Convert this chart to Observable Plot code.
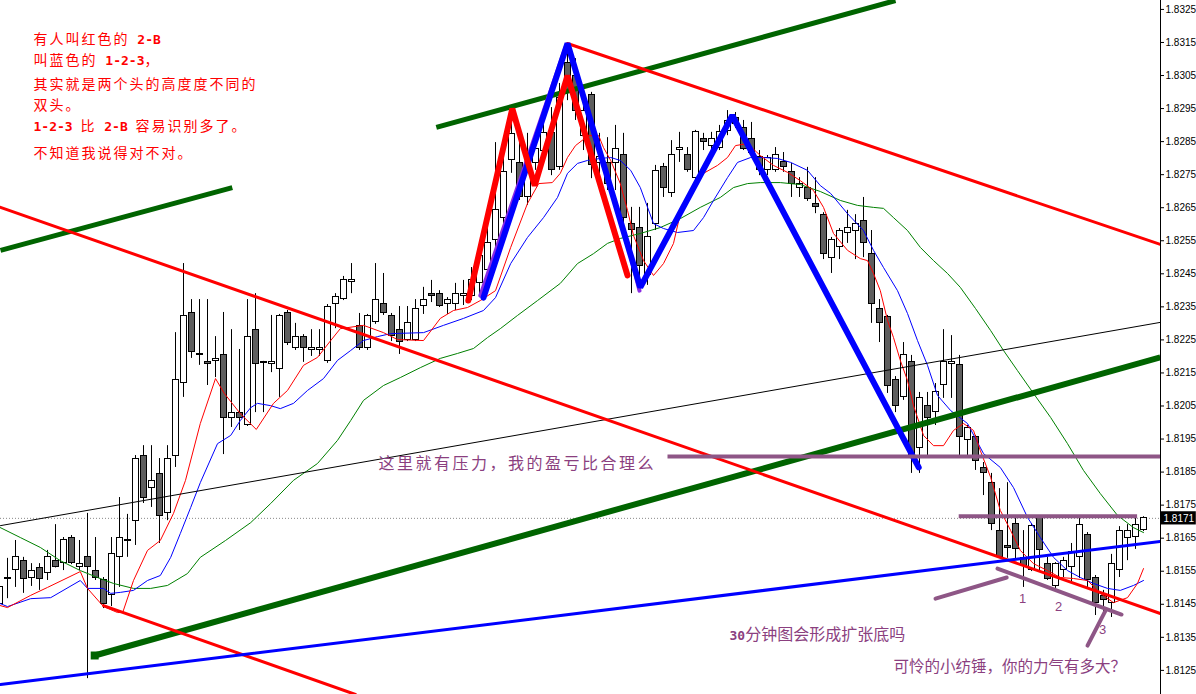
<!DOCTYPE html>
<html><head><meta charset="utf-8">
<script src="https://cdn.jsdelivr.net/npm/d3@7"></script>
<script src="https://cdn.jsdelivr.net/npm/@observablehq/plot@0.6"></script>
<style>
html,body{margin:0;padding:0;background:#fff;}
#chart{width:1196px;height:694px;overflow:hidden}
</style></head><body><div id="chart"></div>
<script>
const open = [1.81452,1.81525,1.81555,1.81582,1.81531,1.81561,1.81546,1.81582,1.81576,1.81652,1.81564,1.81592,1.81552,1.81522,1.81477,1.81592,1.81640,1.81703,1.81900,1.81803,1.81843,1.81725,1.81900,1.82121,1.82330,1.82203,1.82182,1.82185,1.82203,1.82015,1.82030,1.81994,1.82281,1.82179,1.82176,1.82163,1.82330,1.82224,1.82260,1.82218,1.82218,1.82185,1.82360,1.82375,1.82424,1.82291,1.82224,1.82303,1.82360,1.82321,1.82281,1.82251,1.82251,1.82354,1.82390,1.82390,1.82360,1.82360,1.82384,1.82384,1.82421,1.82460,1.82551,1.82620,1.82793,1.82784,1.82681,1.82784,1.82823,1.82875,1.82772,1.83089,1.83050,1.82868,1.82990,1.82784,1.82784,1.82784,1.82808,1.82602,1.82590,1.82445,1.82602,1.82772,1.82693,1.82826,1.82811,1.82741,1.82859,1.82838,1.82832,1.82881,1.82920,1.82890,1.82859,1.82802,1.82763,1.82763,1.82787,1.82757,1.82711,1.82711,1.82660,1.82629,1.82499,1.82530,1.82572,1.82581,1.82611,1.82511,1.82342,1.82318,1.82130,1.82076,1.82182,1.81924,1.82051,1.82033,1.82115,1.82176,1.82173,1.81946,1.81955,1.81861,1.81818,1.81673,1.81625,1.81694,1.81589,1.81555,1.81710,1.81573,1.81504,1.81555,1.81564,1.81592,1.81661,1.81531,1.81474,1.81455,1.81555,1.81652,1.81655,1.81676];
const high = [1.81522,1.81589,1.81643,1.81592,1.81573,1.81573,1.81613,1.81691,1.81652,1.81658,1.81643,1.81725,1.81652,1.81531,1.81652,1.81773,1.81722,1.81900,1.81930,1.81930,1.81891,1.81930,1.82272,1.82481,1.82372,1.82372,1.82372,1.82260,1.82333,1.82281,1.82221,1.82372,1.82390,1.82185,1.82324,1.82327,1.82339,1.82300,1.82266,1.82281,1.82281,1.82357,1.82390,1.82442,1.82481,1.82330,1.82327,1.82481,1.82451,1.82330,1.82351,1.82351,1.82372,1.82409,1.82430,1.82399,1.82378,1.82421,1.82430,1.82469,1.82551,1.82620,1.82847,1.82802,1.82935,1.82862,1.82875,1.82862,1.82905,1.82953,1.83026,1.83126,1.83101,1.82974,1.82999,1.82875,1.82862,1.82899,1.82875,1.82651,1.82651,1.82663,1.82778,1.82784,1.82853,1.82878,1.82832,1.82884,1.82875,1.82878,1.82899,1.82944,1.82938,1.82914,1.82908,1.82823,1.82808,1.82832,1.82817,1.82784,1.82741,1.82772,1.82741,1.82635,1.82560,1.82587,1.82642,1.82629,1.82681,1.82581,1.82372,1.82324,1.82139,1.82242,1.82203,1.82091,1.82091,1.82118,1.82281,1.82263,1.82203,1.81991,1.81961,1.81879,1.81846,1.81800,1.81818,1.81713,1.81673,1.81694,1.81716,1.81592,1.81576,1.81592,1.81634,1.81710,1.81667,1.81537,1.81492,1.81601,1.81685,1.81691,1.81710,1.81715];
const low = [1.81437,1.81467,1.81501,1.81483,1.81504,1.81492,1.81522,1.81560,1.81552,1.81570,1.81552,1.81225,1.81522,1.81437,1.81443,1.81501,1.81592,1.81628,1.81755,1.81743,1.81634,1.81703,1.81864,1.82076,1.82194,1.82173,1.82112,1.82136,1.81903,1.81985,1.81976,1.81988,1.82030,1.82030,1.82151,1.82076,1.82233,1.82218,1.82182,1.82200,1.82200,1.82179,1.82284,1.82369,1.82390,1.82218,1.82218,1.82297,1.82324,1.82245,1.82206,1.82245,1.82245,1.82327,1.82363,1.82348,1.82327,1.82339,1.82354,1.82369,1.82378,1.82424,1.82521,1.82596,1.82754,1.82672,1.82657,1.82763,1.82778,1.82747,1.82763,1.82974,1.82914,1.82823,1.82738,1.82747,1.82702,1.82702,1.82596,1.82390,1.82399,1.82415,1.82581,1.82681,1.82681,1.82787,1.82757,1.82732,1.82823,1.82823,1.82823,1.82868,1.82890,1.82823,1.82814,1.82747,1.82747,1.82757,1.82757,1.82681,1.82681,1.82669,1.82632,1.82493,1.82451,1.82493,1.82542,1.82493,1.82499,1.82300,1.82242,1.82088,1.82030,1.82067,1.81846,1.81846,1.81900,1.81991,1.82073,1.82073,1.81900,1.81900,1.81855,1.81779,1.81673,1.81589,1.81589,1.81582,1.81501,1.81549,1.81552,1.81522,1.81498,1.81531,1.81513,1.81528,1.81498,1.81416,1.81416,1.81410,1.81531,1.81582,1.81616,1.81670];
const close = [1.81501,1.81531,1.81592,1.81525,1.81552,1.81525,1.81592,1.81564,1.81643,1.81576,1.81573,1.81564,1.81531,1.81452,1.81601,1.81652,1.81646,1.81891,1.81773,1.81822,1.81716,1.81891,1.82130,1.82321,1.82212,1.82206,1.82176,1.82191,1.82015,1.82030,1.82015,1.82260,1.82176,1.82182,1.82182,1.82321,1.82242,1.82260,1.82224,1.82224,1.82224,1.82351,1.82381,1.82430,1.82430,1.82224,1.82321,1.82372,1.82330,1.82263,1.82245,1.82300,1.82342,1.82372,1.82384,1.82354,1.82372,1.82390,1.82390,1.82430,1.82505,1.82542,1.82642,1.82757,1.82872,1.82681,1.82784,1.82829,1.82875,1.82763,1.82983,1.82996,1.82944,1.82944,1.82778,1.82802,1.82723,1.82829,1.82620,1.82584,1.82475,1.82560,1.82760,1.82711,1.82811,1.82832,1.82763,1.82878,1.82850,1.82859,1.82878,1.82911,1.82902,1.82829,1.82817,1.82763,1.82799,1.82811,1.82772,1.82723,1.82723,1.82675,1.82651,1.82511,1.82551,1.82581,1.82590,1.82602,1.82542,1.82360,1.82300,1.82112,1.82051,1.82203,1.81900,1.82073,1.82015,1.82091,1.82182,1.82182,1.81955,1.81982,1.81885,1.81846,1.81694,1.81592,1.81619,1.81616,1.81567,1.81688,1.81613,1.81528,1.81573,1.81582,1.81607,1.81691,1.81522,1.81455,1.81464,1.81573,1.81673,1.81673,1.81691,1.81710];

const maRed = [[0.1,1.81446],[1,1.81440],[3.9,1.81477],[6,1.81501],[10.1,1.81549],[11,1.81498],[13,1.81443],[14.75,1.81425],[15.4,1.81425],[16.75,1.81522],[18.5,1.81613],[20.1,1.81643],[21.75,1.81725],[23.25,1.81825],[25.1,1.81997],[27,1.82133],[28.1,1.82088],[30.1,1.82027],[32.1,1.81979],[34.25,1.82058],[36,1.82097],[38,1.82173],[39.75,1.82197],[41.4,1.82248],[42.6,1.82284],[45.5,1.82294],[48,1.82272],[49.75,1.82251],[53,1.82248],[55.1,1.82315],[56.75,1.82339],[58.5,1.82348],[60.1,1.82369],[62,1.82399],[63.9,1.82530],[66,1.82663],[67.4,1.82723],[69.1,1.82726],[70.1,1.82754],[71,1.82802],[72,1.82838],[73.6,1.82868],[74.9,1.82868],[75.5,1.82832],[76.4,1.82793],[77.6,1.82723],[78.5,1.82642],[79.25,1.82566],[80.5,1.82490],[81.75,1.82445],[83,1.82481],[84.25,1.82542],[85.1,1.82632],[86.4,1.82693],[88,1.82754],[89.75,1.82778],[91,1.82802],[92,1.82838],[93.5,1.82844],[95.1,1.82808],[96.75,1.82778],[98.5,1.82757],[100.1,1.82732],[101.75,1.82702],[103,1.82651],[104.25,1.82572],[106,1.82521],[107.6,1.82496],[108.5,1.82490],[109.25,1.82451],[110.1,1.82399],[111,1.82309],[111.75,1.82257],[112.6,1.82188],[113.5,1.82127],[114.25,1.82051],[115.5,1.81961],[116.75,1.81930],[118,1.81930],[119.25,1.81976],[120.5,1.81997],[121.75,1.81976],[122.6,1.81915],[123.9,1.81834],[125.1,1.81734],[126.4,1.81673],[127.6,1.81613],[129.25,1.81573],[131,1.81552],[132.6,1.81531],[134.25,1.81528],[136,1.81522],[137.6,1.81483],[139.25,1.81455],[141,1.81470],[142.25,1.81513],[143,1.81558]];
const maBlue = [[0.1,1.81452],[1,1.81443],[3.9,1.81467],[6.4,1.81470],[10.1,1.81522],[11,1.81498],[13,1.81498],[13.9,1.81483],[15.1,1.81486],[16.75,1.81492],[18.5,1.81522],[20.1,1.81537],[21.4,1.81592],[22.6,1.81664],[23.9,1.81743],[25.1,1.81818],[27.25,1.81936],[28.9,1.81961],[30.1,1.82006],[31.4,1.82045],[32.25,1.82058],[33.9,1.82051],[35.1,1.82042],[36.75,1.82058],[38.5,1.82097],[40.5,1.82133],[42.25,1.82188],[43.9,1.82218],[45.5,1.82248],[47.25,1.82260],[48.9,1.82269],[53,1.82272],[55.5,1.82294],[58,1.82315],[60.5,1.82339],[62,1.82378],[63.9,1.82481],[66,1.82560],[68,1.82620],[69.75,1.82681],[71,1.82754],[72.25,1.82784],[73.5,1.82793],[75.1,1.82799],[76.4,1.82802],[77.6,1.82793],[78.9,1.82763],[80.1,1.82711],[81.75,1.82602],[83,1.82587],[84.75,1.82575],[86.75,1.82581],[88,1.82620],[89.25,1.82672],[91,1.82741],[92.25,1.82787],[93.9,1.82802],[95.5,1.82802],[97.25,1.82799],[98.9,1.82787],[101,1.82763],[102.6,1.82717],[103.9,1.82693],[106,1.82632],[108,1.82581],[109.25,1.82521],[110.5,1.82469],[112.25,1.82399],[113.5,1.82330],[114.75,1.82248],[116,1.82173],[117.25,1.82082],[118.9,1.82036],[121,1.81997],[123,1.81906],[125.1,1.81864],[126.75,1.81803],[128.5,1.81713],[130.1,1.81652],[131.75,1.81592],[133.5,1.81552],[135.1,1.81531],[136.75,1.81513],[138.5,1.81498],[140.1,1.81492],[141.75,1.81507],[143,1.81522]];
const maGreen = [[0.1,1.81682],[2.6,1.81652],[5.1,1.81622],[7.6,1.81582],[10.1,1.81552],[12.25,1.81531],[14.25,1.81513],[16.75,1.81498],[18.9,1.81498],[21,1.81507],[23.5,1.81543],[25.1,1.81592],[28.25,1.81643],[31.4,1.81697],[33.9,1.81755],[36.75,1.81825],[39.75,1.81876],[42.25,1.81946],[43.9,1.82006],[45.5,1.82067],[48,1.82112],[50.1,1.82136],[52.6,1.82166],[55.1,1.82194],[57.25,1.82209],[59.25,1.82224],[61,1.82257],[62.6,1.82284],[64.75,1.82324],[67.25,1.82369],[70.1,1.82421],[72.25,1.82481],[74.25,1.82511],[76,1.82542],[77.6,1.82557],[80.1,1.82572],[82.6,1.82590],[85.1,1.82617],[87.6,1.82651],[90.1,1.82681],[91.75,1.82711],[93.5,1.82723],[95.1,1.82726],[97.6,1.82726],[100.1,1.82720],[102.6,1.82699],[105.1,1.82672],[107.25,1.82657],[109.25,1.82651],[110.5,1.82648],[111.75,1.82620],[113.5,1.82581],[115.1,1.82530],[116.75,1.82490],[118.5,1.82451],[120.1,1.82409],[122,1.82345],[123.9,1.82278],[125.5,1.82218],[127.25,1.82157],[129.25,1.82088],[131.4,1.82015],[133.5,1.81936],[135.5,1.81855],[137.6,1.81785],[139.75,1.81719],[141.75,1.81682],[143,1.81667]];

const greenTop = [[54.6,1.82893],[112,1.83277]];
const greenLeft = [[0.125,1.82521],[29.1,1.82711]];
const greenLow = [[11.9,1.81295],[145.1,1.82197]];
const redTop = [[71,1.83147],[145.1,1.82539]];
const redLong = [[0.125,1.82651],[145.1,1.81422]];
const redLow = [[13,1.81446],[44.5,1.81177]];
const blueLow = [[0.125,1.81207],[145.1,1.81640]];
const blackLine = [[0.125,1.81688],[145.1,1.82303]];
const blueZig = [[60.5,1.82378],[71,1.83147],[80.1,1.82409],[91.6,1.82929],[114.9,1.81864]];
const redZig = [[58.6,1.82369],[64.1,1.82950],[66.9,1.82717],[71,1.83050],[78.5,1.82445]];
const violetZig = [[60.1,1.82384],[70.75,1.83135]];
const violetTail = [[78.4,1.82551],[80.0,1.82399]];
const mauveResist = [[83.5,1.81897],[145.1,1.81897]];
const mauveTop = [[119.9,1.81716],[142.2,1.81716]];
const mauveArrow1 = [[117,1.81467],[125.9,1.81531]];
const mauveBottom = [[124.75,1.81558],[140.25,1.81419]];
const mauveArrow3 = [[138.25,1.81431],[136,1.81325]];

const priceTicks = [1.8125,1.8135,1.8145,1.8155,1.8165,1.8175,1.8185,1.8195,1.8205,1.8215,1.8225,1.8235,1.8245,1.8255,1.8265,1.8275,1.8285,1.8295,1.8305,1.8315,1.8325];
const lastClose = 1.8171;

const redNotes = [
  {x: 4.25, y: 1.83159, t: "有人叫红色的 2-B"},
  {x: 4.25, y: 1.83095, t: "叫蓝色的 1-2-3，"},
  {x: 4.25, y: 1.83023, t: "其实就是两个头的高度度不同的"},
  {x: 4.25, y: 1.82959, t: "双头。"},
  {x: 4.25, y: 1.82896, t: "1-2-3 比 2-B 容易识别多了。"},
  {x: 4.25, y: 1.82814, t: "不知道我说得对不对。"}
];
const mauveNotes = [
  {x: 47.375, y: 1.81876, t: "这里就有压力，我的盈亏比合理么", s: 16},
  {x: 91.25, y: 1.81356, t: "30分钟图会形成扩张底吗", s: 16},
  {x: 111.75, y: 1.81259, t: "可怜的小纺锤，你的力气有多大？", s: 15.5}
];
const pointLabels = [
  {x: 127.9, y: 1.81467, t: "1"},
  {x: 132.4, y: 1.81443, t: "2"},
  {x: 137.9, y: 1.81374, t: "3"}
];

const candles = open.map((o, i) => ({i, o, h: high[i], l: low[i], c: close[i]}));
const L = (data, opts) => Plot.line(data, {x: d => d[0], y: d => d[1], clip: true, ...opts});
const CJK = "Noto Sans CJK SC";
const MAUVE = "#8b3f7f";
const MAUVE_LINE = "#8e5686";
const DKGREEN = "#006400";

const chart = Plot.plot({
  width: 1196, height: 694,
  marginTop: 0, marginRight: 36, marginBottom: 0, marginLeft: 0,
  x: {domain: [0.125, 145.125], axis: null},
  y: {domain: [1.81177, 1.83277], axis: null},
  style: {background: "#fff", fontFamily: "Liberation Sans", fontSize: "10px", color: "#000"},
  marks: [
    Plot.ruleY([lastClose], {stroke: "#888", strokeDasharray: "1,2"}),
    Plot.ruleX(candles, {x: "i", y1: "l", y2: "h", stroke: "#000", strokeWidth: 1}),
    Plot.rect(candles, {x1: d => d.i - 0.375, x2: d => d.i + 0.375, y1: "o", y2: "c",
      fill: d => d.c >= d.o ? "#fff" : "#5e5e5e", stroke: "#000", strokeWidth: 1, shapeRendering: "crispEdges"}),
    L(maGreen, {stroke: "#008000", strokeWidth: 1}),
    L(maBlue, {stroke: "#0000ff", strokeWidth: 1}),
    L(maRed, {stroke: "#ff0000", strokeWidth: 1}),
    L(blackLine, {stroke: "#000", strokeWidth: 1}),
    L(greenTop, {stroke: DKGREEN, strokeWidth: 5, strokeLinecap: "butt"}),
    L(greenLeft, {stroke: DKGREEN, strokeWidth: 5, strokeLinecap: "butt"}),
    L(greenLow, {stroke: DKGREEN, strokeWidth: 6, strokeLinecap: "butt"}),
    Plot.dot([greenLow[0]], {x: d => d[0], y: d => d[1], symbol: "square", r: 4.5, fill: DKGREEN}),
    L(redTop, {stroke: "#ff0000", strokeWidth: 3}),
    L(redLong, {stroke: "#ff0000", strokeWidth: 3}),
    L(redLow, {stroke: "#ff0000", strokeWidth: 3}),
    L(blueLow, {stroke: "#0000ff", strokeWidth: 3}),
    L(violetZig, {stroke: "#8a2be2", strokeWidth: 4}),
    L(violetTail, {stroke: "#8a2be2", strokeWidth: 4}),
    L(blueZig, {stroke: "#0000ff", strokeWidth: 6, strokeLinejoin: "miter"}),
    L(redZig, {stroke: "#ff0000", strokeWidth: 6, strokeLinejoin: "miter"}),
    L(mauveResist, {stroke: MAUVE_LINE, strokeWidth: 4, strokeLinecap: "butt"}),
    L(mauveTop, {stroke: MAUVE_LINE, strokeWidth: 4, strokeLinecap: "butt"}),
    L(mauveArrow1, {stroke: MAUVE_LINE, strokeWidth: 4}),
    L(mauveBottom, {stroke: MAUVE_LINE, strokeWidth: 4}),
    L(mauveArrow3, {stroke: MAUVE_LINE, strokeWidth: 4}),
    Plot.text(redNotes, {x: "x", y: "y", text: "t", textAnchor: "start", fill: "#ff0000", fontSize: 14, fontFamily: CJK}),
    Plot.text(mauveNotes, {x: "x", y: "y", text: "t", textAnchor: "start", fill: MAUVE, fontSize: d => d.s, fontFamily: CJK}),
    Plot.text(pointLabels, {x: "x", y: "y", text: "t", fill: MAUVE, fontSize: 13, fontFamily: "Liberation Sans"}),
    Plot.ruleX([145.125], {stroke: "#000", strokeWidth: 1}),
    Plot.axisY(priceTicks, {anchor: "right", tickSize: 3, tickPadding: 2, tickFormat: d => d.toFixed(4), fontSize: 10, fill: "#000", stroke: "#000"}),
    Plot.rect([lastClose], {x1: () => 145.2, x2: () => 149.6, y1: d => d - 0.0002, y2: d => d + 0.0002, fill: "#000"}),
    Plot.text([lastClose], {x: () => 145.5, y: d => d, text: d => d.toFixed(4), textAnchor: "start", fill: "#fff", fontSize: 10})
  ]
});

// letter spacing like the bitmap font of the original, ASCII runs ("2-B", "1-2-3", "30") in bold monospace
function styleNotes(root, strings, spacing) {
  const NS = "http://www.w3.org/2000/svg";
  root.querySelectorAll("text").forEach(text => {
    const s = text.textContent;
    const k = strings.indexOf(s);
    if (k < 0) return;
    text.setAttribute("letter-spacing", spacing[k]);
    text.style.whiteSpace = "pre";
    if (!/[\x21-\x7e]/.test(s)) return;
    const parts = s.split(/([\x20-\x7e]+)/).filter(p => p.length);
    text.textContent = "";
    parts.forEach(p => {
      const t = document.createElementNS(NS, "tspan");
      t.textContent = p;
      if (/^[\x20-\x7e]+$/.test(p)) {
        t.setAttribute("font-weight", "bold");
        t.setAttribute("font-family", "DejaVu Sans Mono");
        t.setAttribute("font-size", "13");
        t.setAttribute("letter-spacing", "0");
      }
      text.appendChild(t);
    });
  });
}
styleNotes(chart, redNotes.map(d => d.t), redNotes.map(() => 2));
styleNotes(chart, mauveNotes.map(d => d.t), [2.5, 0, 0]);
document.getElementById("chart").appendChild(chart);
</script>
</body></html>
